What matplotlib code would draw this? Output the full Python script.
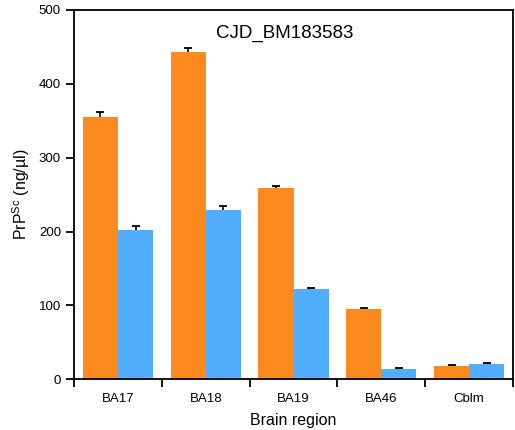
import matplotlib
matplotlib.use("Agg")
import matplotlib.pyplot as plt
import numpy as np

# data
regions = ["BA17", "BA18", "BA19", "BA46", "Cblm"]
orange_vals = [355, 443, 259, 95, 18]
orange_err = [7, 6, 2, 2, 1]
blue_vals = [202, 229, 122, 14, 21]
blue_err = [6, 6, 1.5, 1, 1.5]

ORANGE = "#fc8a1c"
BLUE = "#52adff"


def upper_bars(ax, xpos, vals, errs, color, w):
    bars = ax.bar(xpos, vals, w, color=color,
                  yerr=[np.zeros(len(vals)), errs], capsize=3,
                  error_kw=dict(ecolor="black", elinewidth=1.2, capthick=1.3))
    # keep only the upper cap
    caps = bars.errorbar.lines[1]
    if len(caps) == 2:
        caps[0].set_visible(False)
    return bars


def draw(ax):
    x = np.arange(len(regions))
    w = 0.4
    upper_bars(ax, x - w / 2, orange_vals, orange_err, ORANGE, w)
    upper_bars(ax, x + w / 2, blue_vals, blue_err, BLUE, w)

    ax.set_xlim(-0.5, len(regions) - 0.5)
    ax.set_ylim(0, 500)
    ax.set_yticks([0, 100, 200, 300, 400, 500])

    # ticks at group boundaries, labels at group centres
    ax.set_xticks(np.arange(len(regions) + 1) - 0.5)
    ax.set_xticklabels([])
    ax.set_xticks(x, minor=True)
    ax.set_xticklabels(regions, minor=True)
    ax.tick_params(axis="x", which="minor", length=0, pad=10, labelsize=9.5)
    ax.tick_params(axis="x", which="major", length=6, width=1.3)
    ax.tick_params(axis="y", length=6, width=1.3, labelsize=9.5)

    for s in ax.spines.values():
        s.set_linewidth(1.3)

    ax.set_xlabel("Brain region", fontsize=11.5, labelpad=6)
    ax.set_ylabel("PrP$^{Sc}$ (ng/µl)", fontsize=11.5, labelpad=5)
    ax.text(0.48, 0.935, "CJD_BM183583", transform=ax.transAxes,
            ha="center", va="center", fontsize=13.5)


def main():
    plt.rcParams["font.family"] = ["Liberation Sans", "DejaVu Sans"]
    plt.rcParams["mathtext.default"] = "regular"
    fig = plt.figure(figsize=(5.15, 4.3), dpi=100)
    ax = fig.add_axes([0.144, 0.118, 0.852, 0.859])
    draw(ax)
    fig.savefig("out.png", dpi=100)


if __name__ == "__main__":
    main()
